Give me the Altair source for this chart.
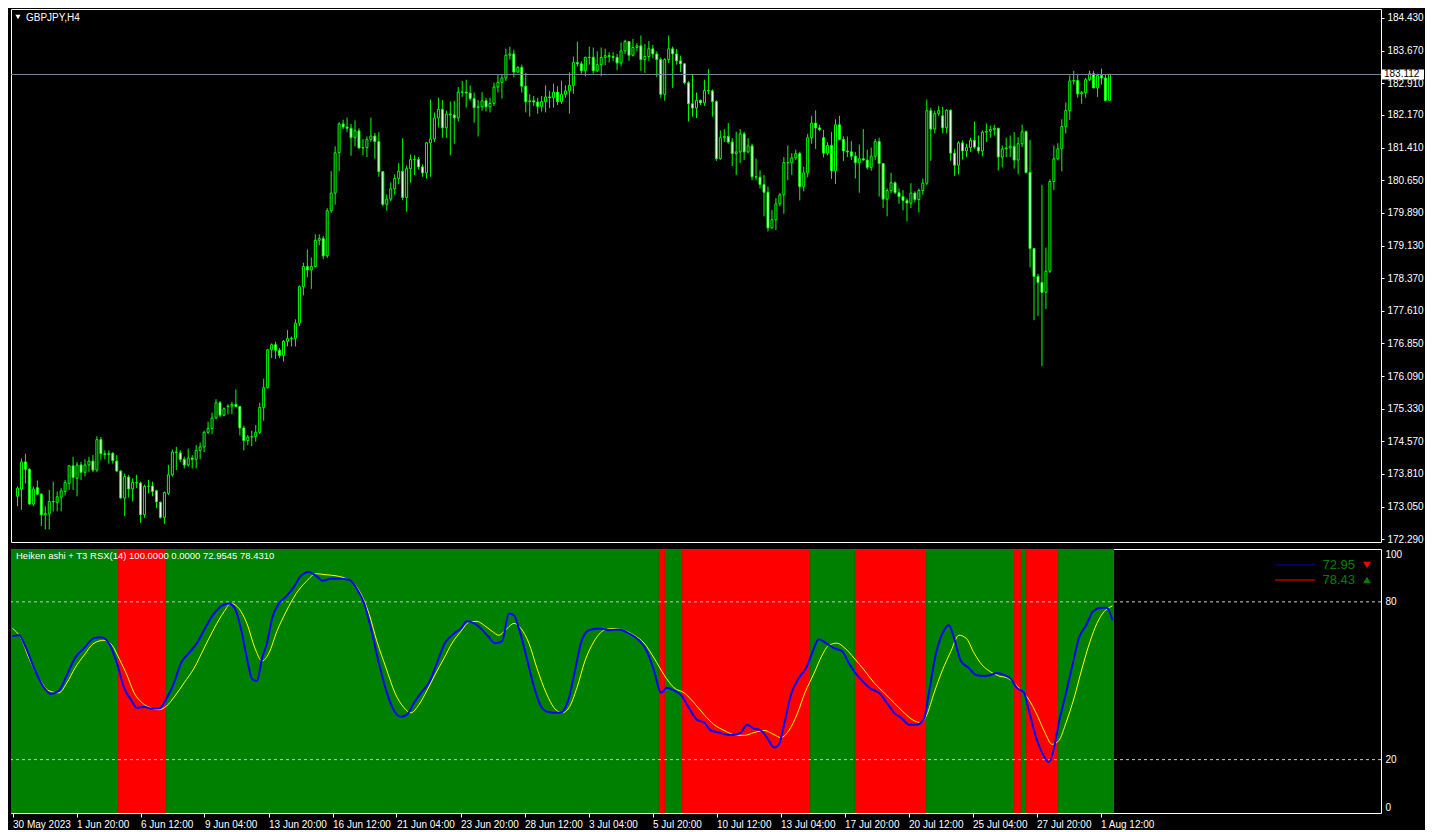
import json
import altair as alt
import pandas as pd

# ---------------- data ----------------
SYMBOL = "GBPJPY,H4"

OPEN = [
    173.29, 173.46, 174.09, 173.92, 173.11, 173.49, 173.34, 172.86, 172.88, 173.17,
    173.14, 173.27, 173.40, 173.59, 174.00, 173.71, 174.02, 173.85, 174.02, 174.11,
    173.90, 174.61, 174.28, 174.26, 174.29, 174.11, 173.88, 173.25, 173.74, 173.46,
    173.61, 173.60, 172.86, 173.52, 173.53, 173.42, 173.15, 172.80, 173.36, 173.79,
    174.31, 174.30, 174.15, 174.02, 174.18, 174.15, 174.36, 174.44, 174.78, 174.87,
    175.11, 175.47, 175.18, 175.38, 175.39, 175.43, 175.38, 174.88, 174.59, 174.67,
    174.68, 174.78, 175.36, 175.82, 176.70, 176.82, 176.69, 176.57, 176.90, 176.96,
    176.97, 177.32, 178.17, 178.64, 178.56, 178.64, 179.25, 179.29, 178.89, 179.94,
    180.35, 181.29, 181.96, 181.89, 181.86, 181.64, 181.80, 181.40, 181.41, 181.60,
    181.68, 181.55, 180.85, 180.09, 180.21, 180.45, 180.69, 180.86, 180.25, 180.92,
    181.13, 181.13, 180.96, 180.82, 181.52, 181.61, 182.10, 182.30, 181.87, 182.19,
    182.17, 182.10, 182.70, 182.70, 182.68, 182.55, 182.34, 182.36, 182.50, 182.36,
    182.44, 182.82, 182.93, 183.03, 183.56, 183.59, 183.17, 183.28, 182.84, 182.48,
    182.50, 182.47, 182.37, 182.48, 182.59, 182.57, 182.70, 182.48, 182.65, 182.73,
    182.86, 183.39, 183.36, 183.20, 183.51, 183.51, 183.20, 183.34, 183.51, 183.55,
    183.53, 183.51, 183.38, 183.66, 183.88, 183.56, 183.74, 183.78, 183.46, 183.53,
    183.71, 183.59, 183.46, 182.65, 183.46, 183.71, 183.59, 183.43, 183.36, 182.92,
    182.43, 182.33, 182.51, 182.45, 182.74, 182.73, 182.48, 181.15, 181.64, 181.67,
    181.54, 181.27, 181.31, 181.73, 181.31, 181.45, 180.73, 180.72, 180.55, 180.37,
    179.54, 179.73, 180.10, 180.31, 181.06, 181.06, 181.17, 181.27, 180.50, 180.82,
    181.64, 181.98, 181.87, 181.64, 181.28, 181.46, 180.87, 181.94, 181.60, 181.33,
    181.31, 181.21, 181.06, 181.15, 181.12, 180.95, 181.21, 181.55, 181.04, 180.21,
    180.41, 180.59, 180.36, 180.27, 180.18, 180.12, 180.35, 180.20, 180.41, 180.58,
    182.27, 181.84, 182.20, 182.15, 181.87, 182.28, 181.28, 181.00, 181.52, 181.33,
    181.41, 181.58, 181.42, 181.33, 181.77, 181.79, 181.83, 181.86, 181.19, 181.38,
    181.40, 181.44, 181.12, 181.50, 181.78, 180.83, 179.06, 178.41, 178.27, 178.04,
    178.53, 180.62, 181.15, 181.38, 181.90, 182.27, 182.96, 182.97, 182.66, 182.69,
    182.99, 183.13, 182.80, 183.09, 183.03, 182.51,
]
HIGH = [
    173.52, 174.17, 174.28, 173.94, 173.52, 173.66, 173.36, 173.06, 173.44, 173.63,
    173.40, 173.48, 173.67, 174.02, 174.21, 174.09, 174.09, 174.15, 174.21, 174.25,
    174.69, 174.67, 174.36, 174.36, 174.32, 174.25, 173.90, 173.82, 173.79, 173.71,
    173.79, 173.63, 173.56, 173.67, 173.63, 173.44, 173.17, 173.40, 174.02, 174.38,
    174.44, 174.36, 174.21, 174.40, 174.25, 174.48, 174.54, 174.82, 175.03, 175.24,
    175.55, 175.51, 175.36, 175.43, 175.49, 175.78, 175.40, 174.93, 174.72, 174.82,
    174.95, 175.47, 176.03, 176.72, 176.85, 176.89, 176.74, 176.93, 177.16, 177.01,
    177.41, 178.20, 178.73, 179.04, 178.85, 179.39, 179.39, 179.35, 180.00, 180.86,
    181.44, 182.00, 182.06, 182.11, 181.96, 182.04, 181.86, 181.61, 181.67, 182.11,
    181.75, 181.77, 180.85, 180.32, 180.60, 180.79, 181.05, 181.63, 180.99, 181.25,
    181.23, 181.19, 181.02, 181.54, 182.53, 182.23, 182.57, 182.52, 182.27, 182.48,
    182.50, 182.82, 182.96, 182.99, 182.86, 182.69, 182.52, 182.70, 182.57, 182.57,
    182.92, 183.11, 183.11, 183.71, 183.76, 183.69, 183.30, 183.34, 183.15, 182.65,
    182.61, 182.57, 182.61, 182.86, 182.73, 182.90, 182.84, 182.97, 182.86, 183.16,
    183.53, 183.88, 183.42, 183.53, 183.76, 183.74, 183.65, 183.74, 183.71, 183.63,
    183.63, 183.59, 183.86, 183.92, 183.89, 183.94, 183.84, 184.02, 183.82, 183.89,
    183.80, 183.65, 183.51, 183.49, 184.02, 183.76, 183.71, 183.55, 183.38, 182.96,
    183.11, 182.69, 182.53, 182.99, 183.24, 182.77, 182.51, 181.81, 181.84, 181.98,
    181.63, 181.78, 181.84, 181.78, 181.63, 181.50, 181.15, 180.88, 180.77, 180.50,
    179.96, 180.23, 180.35, 181.19, 181.46, 181.28, 181.36, 181.31, 180.96, 181.73,
    182.15, 182.28, 181.94, 181.82, 181.54, 181.77, 182.07, 182.15, 181.67, 181.67,
    181.56, 181.31, 181.48, 181.84, 181.36, 181.41, 181.61, 181.64, 181.05, 180.46,
    180.82, 180.62, 180.46, 180.42, 180.23, 180.58, 180.39, 180.46, 180.69, 182.53,
    182.34, 182.27, 182.38, 182.36, 182.30, 182.30, 181.38, 181.56, 181.58, 181.50,
    181.64, 182.02, 181.69, 181.81, 181.97, 181.92, 181.94, 181.87, 181.46, 181.64,
    181.69, 181.77, 181.65, 181.94, 181.81, 181.59, 179.06, 178.47, 180.54, 179.08,
    180.67, 181.46, 181.51, 182.07, 182.46, 183.09, 183.20, 183.13, 182.73, 183.03,
    183.20, 183.19, 183.13, 183.25, 183.11, 183.13,
]
LOW = [
    173.06, 172.98, 173.59, 173.09, 173.06, 173.32, 172.60, 172.52, 172.52, 172.94,
    172.94, 172.94, 173.31, 173.44, 173.44, 173.29, 173.67, 173.75, 173.86, 173.85,
    173.86, 174.13, 174.15, 174.05, 174.05, 173.85, 173.23, 172.83, 173.26, 173.17,
    173.48, 172.67, 172.79, 173.36, 173.29, 173.02, 172.77, 172.65, 173.32, 173.75,
    173.90, 174.09, 173.94, 173.98, 173.94, 173.94, 174.15, 174.32, 174.74, 174.74,
    175.09, 175.13, 175.15, 175.20, 175.20, 175.36, 174.71, 174.36, 174.48, 174.46,
    174.56, 174.74, 175.05, 175.80, 176.51, 176.49, 176.51, 176.43, 176.78, 176.78,
    176.78, 177.25, 177.97, 178.39, 178.12, 178.62, 179.14, 178.81, 178.84, 179.89,
    180.08, 180.86, 181.84, 181.77, 181.22, 181.44, 181.38, 181.23, 181.19, 181.54,
    181.15, 180.73, 180.04, 179.94, 180.16, 180.31, 180.56, 180.19, 179.92, 180.59,
    180.77, 180.90, 180.73, 180.69, 180.73, 181.54, 181.88, 181.64, 181.64, 181.23,
    181.50, 182.02, 182.59, 182.34, 182.50, 181.99, 181.67, 182.27, 182.25, 182.23,
    182.38, 182.69, 182.55, 182.96, 183.46, 183.05, 183.15, 182.69, 182.23, 182.13,
    182.38, 182.20, 182.25, 182.23, 182.33, 182.34, 182.40, 182.43, 182.57, 182.20,
    182.66, 183.30, 183.13, 183.07, 183.34, 183.13, 183.17, 183.07, 183.33, 183.39,
    183.43, 183.21, 183.30, 183.59, 183.43, 183.53, 183.65, 183.19, 183.15, 183.43,
    183.49, 183.05, 182.57, 182.50, 183.38, 182.80, 183.34, 183.17, 182.88, 182.02,
    182.13, 182.10, 182.40, 182.38, 182.65, 182.13, 181.10, 181.13, 181.54, 181.50,
    180.98, 180.77, 181.05, 181.12, 181.28, 180.65, 180.65, 180.46, 179.81, 179.46,
    179.52, 179.49, 180.04, 179.87, 180.65, 180.77, 181.12, 180.18, 180.39, 180.72,
    181.50, 181.38, 181.79, 181.18, 181.23, 180.68, 180.56, 181.58, 181.10, 181.19,
    181.12, 180.69, 180.36, 181.11, 180.90, 180.87, 181.12, 180.27, 180.00, 179.81,
    180.35, 180.33, 180.10, 179.95, 179.69, 180.00, 180.13, 179.90, 180.31, 180.54,
    181.10, 181.74, 182.15, 181.74, 181.74, 181.10, 180.75, 180.79, 181.13, 181.19,
    181.31, 181.38, 181.27, 181.21, 181.54, 181.64, 181.69, 180.88, 180.95, 181.19,
    181.19, 180.92, 180.79, 181.42, 180.81, 178.62, 177.39, 177.49, 176.32, 177.65,
    178.49, 180.42, 181.11, 180.86, 181.74, 182.05, 182.88, 182.57, 182.43, 182.57,
    182.96, 182.79, 182.59, 182.88, 182.48, 182.51,
]
CLOSE = [
    173.48, 174.09, 173.92, 173.11, 173.46, 173.34, 172.86, 172.89, 173.17, 173.16,
    173.28, 173.42, 173.61, 174.00, 173.73, 174.02, 173.85, 174.02, 174.11, 173.90,
    174.61, 174.28, 174.26, 174.29, 174.12, 173.88, 173.25, 173.75, 173.46, 173.61,
    173.60, 172.86, 173.52, 173.53, 173.40, 173.16, 172.80, 173.38, 173.79, 174.32,
    174.32, 174.15, 174.02, 174.18, 174.15, 174.36, 174.44, 174.78, 174.87, 175.11,
    175.47, 175.18, 175.33, 175.39, 175.43, 175.38, 174.88, 174.59, 174.67, 174.68,
    174.78, 175.36, 175.82, 176.70, 176.82, 176.69, 176.57, 176.90, 176.96, 176.97,
    177.32, 178.17, 178.64, 178.56, 178.64, 179.25, 179.29, 178.89, 179.94, 180.35,
    181.29, 181.96, 181.89, 181.86, 181.64, 181.80, 181.40, 181.41, 181.60, 181.68,
    181.55, 180.85, 180.09, 180.21, 180.45, 180.69, 180.86, 180.25, 180.92, 181.13,
    181.13, 180.96, 180.82, 181.52, 181.61, 182.10, 182.30, 181.87, 182.19, 182.17,
    182.10, 182.70, 182.70, 182.68, 182.55, 182.34, 182.36, 182.50, 182.36, 182.44,
    182.82, 182.93, 183.03, 183.56, 183.59, 183.17, 183.28, 182.84, 182.48, 182.50,
    182.47, 182.37, 182.48, 182.59, 182.57, 182.70, 182.48, 182.65, 182.73, 182.86,
    183.39, 183.36, 183.20, 183.51, 183.51, 183.20, 183.34, 183.51, 183.55, 183.53,
    183.51, 183.38, 183.66, 183.88, 183.56, 183.74, 183.78, 183.46, 183.53, 183.71,
    183.59, 183.46, 182.65, 183.46, 183.71, 183.59, 183.43, 183.36, 182.92, 182.43,
    182.33, 182.51, 182.45, 182.74, 182.73, 182.48, 181.15, 181.64, 181.67, 181.54,
    181.27, 181.31, 181.73, 181.31, 181.45, 180.73, 180.73, 180.55, 180.37, 179.54,
    179.73, 180.10, 180.31, 181.06, 181.06, 181.17, 181.27, 180.50, 180.82, 181.64,
    181.98, 181.87, 181.83, 181.28, 181.46, 180.87, 181.94, 181.60, 181.33, 181.31,
    181.21, 181.06, 181.15, 181.12, 180.95, 181.21, 181.55, 181.04, 180.21, 180.41,
    180.59, 180.36, 180.27, 180.18, 180.12, 180.35, 180.20, 180.41, 180.58, 182.27,
    181.84, 182.20, 182.27, 181.87, 182.28, 181.28, 181.00, 181.52, 181.33, 181.41,
    181.58, 181.42, 181.33, 181.77, 181.79, 181.83, 181.86, 181.19, 181.38, 181.40,
    181.44, 181.12, 181.50, 181.78, 180.83, 179.06, 178.41, 178.27, 178.04, 178.53,
    180.62, 181.15, 181.38, 181.90, 182.27, 182.96, 182.97, 182.66, 182.69, 182.99,
    183.13, 182.80, 183.09, 183.03, 182.51, 183.112,
]
LAST_PRICE = 183.112

PRICE_TICKS = [172.29, 173.05, 173.81, 174.57, 175.33, 176.09, 176.85, 177.61, 178.37,
               179.13, 179.89, 180.65, 181.41, 182.17, 182.91, 183.67, 184.43]

X_TICK_BARS = [0, 16, 32, 48, 64, 80, 96, 112, 128, 144, 160, 176, 192, 208, 224, 240, 256, 272]
X_TICK_LABELS = ["30 May 2023", "1 Jun 20:00", "6 Jun 12:00", "9 Jun 04:00", "13 Jun 20:00",
                 "16 Jun 12:00", "21 Jun 04:00", "23 Jun 20:00", "28 Jun 12:00", "3 Jul 04:00",
                 "5 Jul 20:00", "10 Jul 12:00", "13 Jul 04:00", "17 Jul 20:00", "20 Jul 12:00",
                 "25 Jul 04:00", "27 Jul 20:00", "1 Aug 12:00"]

# Heiken-ashi trend background (bar-index spans)
SEG_START = [-0.375, 26.4, 38.4, 161.6, 163.1, 167.4, 199.4, 210.6, 228.4, 250.4, 252.1, 253.4, 261.4]
SEG_END = [26.4, 38.4, 161.6, 163.1, 167.4, 199.4, 210.6, 228.4, 250.4, 252.1, 253.4, 261.4, 275.4]
SEG_TREND = ["up", "down", "up", "down", "up", "down", "up", "down", "up", "down", "up", "down", "up"]

RSX_BAR = [0, 1.6, 3.4, 5.4, 7.9, 9.6, 11.6, 13.6, 15.6, 17.9,
           20.4, 22.1, 24.1, 26.1, 27.9, 29.6, 31.1, 32.9, 34.6, 36.6,
           38.6, 40.4, 42.1, 44.1, 46.1, 48.1, 50.4, 52.4, 54.1, 55.6,
           57.1, 58.6, 59.9, 61.1, 62.4, 63.6, 64.9, 66.6, 68.4, 70.4,
           72.1, 74.1, 75.9, 77.6, 79.6, 81.6, 84.1, 86.1, 87.9, 89.9,
           91.6, 93.6, 95.4, 97.1, 98.6, 100.4, 102.1, 104.1, 106.1, 108.1,
           110.4, 112.1, 113.6, 115.4, 117.1, 118.9, 120.6, 122.4, 124.1, 125.4,
           126.6, 128.4, 130.1, 131.9, 133.6, 135.6, 137.1, 139.1, 140.6, 142.1,
           144.1, 146.6, 149.1, 151.6, 154.1, 156.6, 158.6, 160.4, 162.1, 163.6,
           165.4, 167.1, 169.1, 171.1, 172.9, 174.6, 176.6, 178.6, 180.4, 182.1,
           183.6, 185.4, 187.1, 188.6, 190.4, 191.6, 193.1, 194.6, 196.6, 198.4,
           199.9, 201.6, 203.4, 205.4, 207.4, 209.1, 211.1, 212.9, 214.6, 216.6,
           218.6, 220.4, 222.4, 224.1, 226.1, 227.9, 229.1, 230.9, 232.9, 234.1,
           235.4, 237.1, 239.1, 240.9, 242.9, 244.6, 246.1, 247.9, 249.6, 251.1,
           252.9, 254.1, 255.9, 257.6, 259.1, 260.4, 261.6, 263.4, 265.1, 266.6,
           268.4, 270.1, 272.1, 273.6, 275]
RSX_VAL = [66.9, 67.3, 62.4, 54.8, 47.3, 45.0, 46.2, 52.2, 58.6, 62.4,
           66.2, 66.5, 64.3, 56.7, 47.3, 42.8, 39.7, 40.1, 39.4, 39.4,
           43.5, 49.2, 56.7, 60.5, 64.3, 69.9, 75.6, 78.6, 79.4, 77.5,
           69.9, 58.6, 50.7, 49.9, 58.6, 64.3, 73.7, 79.4, 82.0, 85.8,
           89.9, 91.4, 89.9, 88.0, 88.8, 88.8, 88.4, 85.0, 79.4, 68.0,
           56.7, 45.4, 38.6, 36.3, 37.1, 41.6, 45.4, 49.2, 56.7, 64.3,
           68.0, 69.9, 72.6, 71.8, 69.9, 66.9, 64.3, 65.0, 75.6, 74.8,
           69.9, 59.7, 49.2, 40.9, 38.2, 37.8, 37.8, 43.5, 53.7, 64.3,
           69.2, 69.9, 69.2, 69.5, 68.0, 65.4, 61.2, 53.7, 45.4, 47.3,
           46.2, 44.6, 39.7, 35.2, 34.1, 31.1, 30.3, 29.5, 29.5, 30.3,
           33.3, 31.8, 31.1, 28.4, 24.6, 25.8, 34.8, 44.6, 51.1, 54.8,
           60.5, 65.8, 64.3, 62.4, 61.2, 56.7, 52.2, 49.2, 46.9, 45.4,
           41.6, 37.8, 35.6, 33.3, 33.3, 35.6, 45.4, 60.5, 69.2, 71.1,
           66.2, 57.5, 54.8, 52.2, 51.8, 52.2, 52.9, 52.2, 50.7, 47.3,
           45.4, 38.6, 28.4, 22.0, 19.0, 24.6, 34.1, 45.4, 56.7, 66.2,
           71.1, 76.3, 77.8, 77.8, 72.95]
SIG_BAR = [0, 2.1, 4.1, 6.6, 9.1, 11.6, 13.6, 15.6, 17.9, 20.4,
           22.9, 24.9, 26.6, 28.6, 30.4, 32.4, 34.6, 36.6, 38.6, 40.6,
           42.9, 45.4, 47.9, 50.4, 52.9, 54.6, 56.6, 58.6, 60.6, 62.4,
           64.1, 66.1, 68.4, 70.9, 73.4, 75.9, 78.4, 80.9, 83.4, 85.4,
           87.1, 89.1, 91.1, 93.4, 95.6, 97.9, 99.6, 101.6, 103.6, 105.6,
           107.9, 109.9, 112.1, 114.1, 116.1, 117.9, 119.9, 121.6, 123.4, 125.4,
           127.1, 129.1, 131.1, 133.4, 135.4, 137.4, 139.1, 141.1, 143.1, 145.4,
           147.9, 150.4, 152.9, 155.4, 157.9, 160.4, 162.9, 165.4, 167.9, 170.4,
           172.9, 175.4, 177.9, 180.4, 182.9, 185.4, 187.9, 190.4, 192.1, 194.1,
           196.1, 198.1, 200.4, 202.4, 204.1, 206.1, 208.1, 210.4, 212.9, 215.4,
           217.9, 220.4, 222.9, 225.4, 227.1, 228.6, 230.4, 232.4, 234.6, 236.6,
           238.4, 240.4, 242.4, 244.6, 246.6, 248.6, 250.4, 252.1, 254.1, 256.1,
           258.1, 259.9, 261.6, 263.4, 265.4, 267.4, 269.4, 271.1, 272.9, 275]
SIG_VAL = [69.9, 66.2, 58.6, 51.1, 46.2, 45.4, 49.2, 54.8, 59.7, 64.3,
           65.4, 63.5, 58.6, 52.2, 45.4, 41.6, 39.7, 39.0, 40.5, 44.2,
           49.2, 54.8, 62.4, 69.9, 76.3, 79.4, 77.5, 71.8, 62.4, 57.5,
           60.5, 68.8, 76.3, 83.1, 87.7, 90.7, 90.3, 89.9, 88.8, 86.9,
           83.1, 75.6, 65.0, 54.8, 45.4, 39.7, 37.8, 40.9, 46.2, 52.2,
           58.6, 64.3, 68.8, 72.2, 72.6, 71.1, 68.8, 67.3, 69.5, 71.8,
           69.9, 64.3, 54.8, 45.4, 39.7, 37.8, 39.7, 47.3, 57.5, 65.0,
           69.2, 69.9, 69.2, 67.3, 64.3, 58.6, 52.2, 47.3, 45.4, 41.6,
           37.1, 33.3, 31.1, 29.5, 29.2, 30.3, 31.1, 29.5, 28.4, 31.1,
           37.1, 45.4, 52.9, 59.7, 63.5, 64.3, 62.4, 58.6, 54.1, 49.2,
           45.4, 41.6, 37.8, 34.8, 34.1, 37.1, 45.4, 53.7, 61.2, 67.3,
           66.2, 60.5, 56.0, 53.3, 51.8, 51.1, 49.2, 46.5, 42.8, 37.1,
           30.3, 25.8, 27.3, 34.1, 43.5, 54.8, 65.0, 71.8, 76.3, 78.43]
RSX_LAST = 72.9545
SIG_LAST = 78.4310
LEVELS = [20, 80]
IND_TICKS = [0, 20, 80, 100]

# ---------------- layout ----------------
FONT = "Liberation Sans"
W = 1370           # plot width (4 px per bar)
H1 = 533           # price panel
H2 = 264           # indicator panel
XMIN = -0.375
XMAX = XMIN + W / 4.0

xscale = alt.Scale(domain=[XMIN, XMAX], nice=False, zero=False)
pscale = alt.Scale(domain=[172.226, 184.637], nice=False, zero=False)
iscale = alt.Scale(domain=[-0.3, 100.1], nice=False, zero=False)

n = len(CLOSE)
cdf = pd.DataFrame({"i": list(range(n)), "o": OPEN, "h": HIGH, "l": LOW, "c": CLOSE})
cdf["fillc"] = ["black" if c >= o else "white" for o, c in zip(OPEN, CLOSE)]

price_axis = alt.Axis(orient="right", values=PRICE_TICKS, format=".3f", tickSize=3,
                      labelPadding=3, domain=False, grid=False, ticks=True,
                      labelOverlap=False, labelBound=False, labelFlush=False)

wick = alt.Chart(cdf).mark_rule(color="#00FF00", strokeWidth=1).encode(
    x=alt.X("i:Q", scale=xscale, axis=None),
    y=alt.Y("l:Q", scale=pscale, title=None, axis=price_axis),
    y2="h:Q",
)
body = alt.Chart(cdf).mark_bar(width=2, stroke="#00FF00", strokeWidth=1).encode(
    x=alt.X("i:Q", scale=xscale, axis=None),
    y=alt.Y("o:Q", scale=pscale, title=None, axis=price_axis),
    y2="c:Q",
    fill=alt.Fill("fillc:N", scale=None),
)

pdf = pd.DataFrame({"p": [LAST_PRICE]})
price_line = alt.Chart(pdf).mark_rule(color="#778899", strokeWidth=1).encode(
    y=alt.Y("p:Q", scale=pscale, title=None, axis=price_axis))
price_box = alt.Chart(pdf).mark_tick(color="white", thickness=10, size=42,
                                     orient="horizontal", opacity=1).encode(
    y=alt.Y("p:Q", scale=pscale, title=None, axis=price_axis), x=alt.value(W + 22))
price_txt = alt.Chart(pdf).mark_text(align="left", baseline="middle", color="black",
                                     font=FONT, fontSize=10).encode(
    y=alt.Y("p:Q", scale=pscale, title=None, axis=price_axis), x=alt.value(W + 3),
    text=alt.Text("p:Q", format=".3f"))

tdf = pd.DataFrame({"t": [SYMBOL]})
title_tri = alt.Chart(tdf).mark_point(shape="triangle-down", filled=True, color="white",
                                      size=26, opacity=1).encode(
    x=alt.value(7), y=alt.value(8))
title_txt = alt.Chart(tdf).mark_text(align="left", baseline="middle", color="white",
                                     font=FONT, fontSize=10).encode(
    x=alt.value(15), y=alt.value(8.5), text="t:N")

main = alt.layer(wick, body, price_line, price_box, price_txt, title_tri, title_txt).properties(
    width=W, height=H1)

# ---------------- indicator panel ----------------
label_arr = "[" + ",".join("'" + s + "'" for s in X_TICK_LABELS) + "]"
label_expr = label_arr + "[indexof(" + json.dumps(X_TICK_BARS) + ", datum.value)]"
time_axis = alt.Axis(orient="bottom", values=X_TICK_BARS, labelExpr=label_expr,
                     labelAlign="left", labelPadding=2, tickSize=4, domain=False,
                     grid=False, labelOverlap=False, labelFlush=False, labelBound=False)
ind_axis = alt.Axis(orient="right", values=IND_TICKS, ticks=False, labelPadding=4,
                    domain=False, grid=False, labelFlush=True, labelOverlap=False)

sdf = pd.DataFrame({"s": SEG_START, "e": SEG_END,
                    "col": ["#008000" if t == "up" else "#FF0000" for t in SEG_TREND]})
bg = alt.Chart(sdf).mark_rect().encode(
    x=alt.X("s:Q", scale=xscale, title=None, axis=time_axis),
    x2="e:Q",
    y=alt.value(0), y2=alt.value(H2),
    color=alt.Color("col:N", scale=None),
)
ldf = pd.DataFrame({"v": LEVELS})
levels = alt.Chart(ldf).mark_rule(color="#C8C8C8", strokeDash=[3, 3], strokeWidth=1).encode(
    y=alt.Y("v:Q", scale=iscale, title=None, axis=ind_axis))
sig = alt.Chart(pd.DataFrame({"b": SIG_BAR, "v": SIG_VAL})).mark_line(
    color="#FFFF00", strokeWidth=1, interpolate="monotone").encode(
    x=alt.X("b:Q", scale=xscale, title=None, axis=time_axis),
    y=alt.Y("v:Q", scale=iscale, title=None, axis=ind_axis))
rsx = alt.Chart(pd.DataFrame({"b": RSX_BAR, "v": RSX_VAL})).mark_line(
    color="#0000FF", strokeWidth=2, interpolate="monotone").encode(
    x=alt.X("b:Q", scale=xscale, title=None, axis=time_axis),
    y=alt.Y("v:Q", scale=iscale, title=None, axis=ind_axis))

header = "Heiken ashi + T3 RSX(14) 100.0000 0.0000 %.4f %.4f" % (RSX_LAST, SIG_LAST)
hdf = pd.DataFrame({"t": [header]})
head_txt = alt.Chart(hdf).mark_text(align="left", baseline="middle", color="white",
                                    font=FONT, fontSize=9.5).encode(
    x=alt.value(5), y=alt.value(7), text="t:N")

legdf = pd.DataFrame({
    "row": [0, 1],
    "y": [16, 31],
    "txt": ["%.2f" % RSX_LAST, "%.2f" % SIG_LAST],
    "lc": ["#0000CD", "#FF0000"],
    "shape": ["triangle-down", "triangle-up"],
    "tc": ["#FF0000", "#008000"],
})
leg_lines = alt.Chart(legdf).mark_rule(strokeWidth=1).encode(
    x=alt.value(W - 106), x2=alt.value(W - 66), y=alt.Y("y:Q", scale=None),
    color=alt.Color("lc:N", scale=None))
leg_txt = alt.Chart(legdf).mark_text(align="right", baseline="middle", font=FONT,
                                     fontSize=13, color="#008000").encode(
    x=alt.value(W - 26), y=alt.Y("y:Q", scale=None), text="txt:N")
leg_tri = alt.Chart(legdf).mark_point(filled=True, size=60, opacity=1).encode(
    x=alt.value(W - 14), y=alt.Y("y:Q", scale=None),
    shape=alt.Shape("shape:N", scale=None), color=alt.Color("tc:N", scale=None))

ind = alt.layer(bg, levels, sig, rsx, head_txt, leg_lines, leg_txt, leg_tri).properties(
    width=W, height=H2)

chart = alt.vconcat(main, ind, spacing=3).properties(
    padding=0, background="black"
).configure_view(
    stroke="white", strokeWidth=1
).configure_axis(
    labelFont=FONT, labelFontSize=10, labelColor="white", tickColor="white",
    labelOverlap=False
)

chart.save("out.html", embed_options={"renderer": "svg", "actions": False})
